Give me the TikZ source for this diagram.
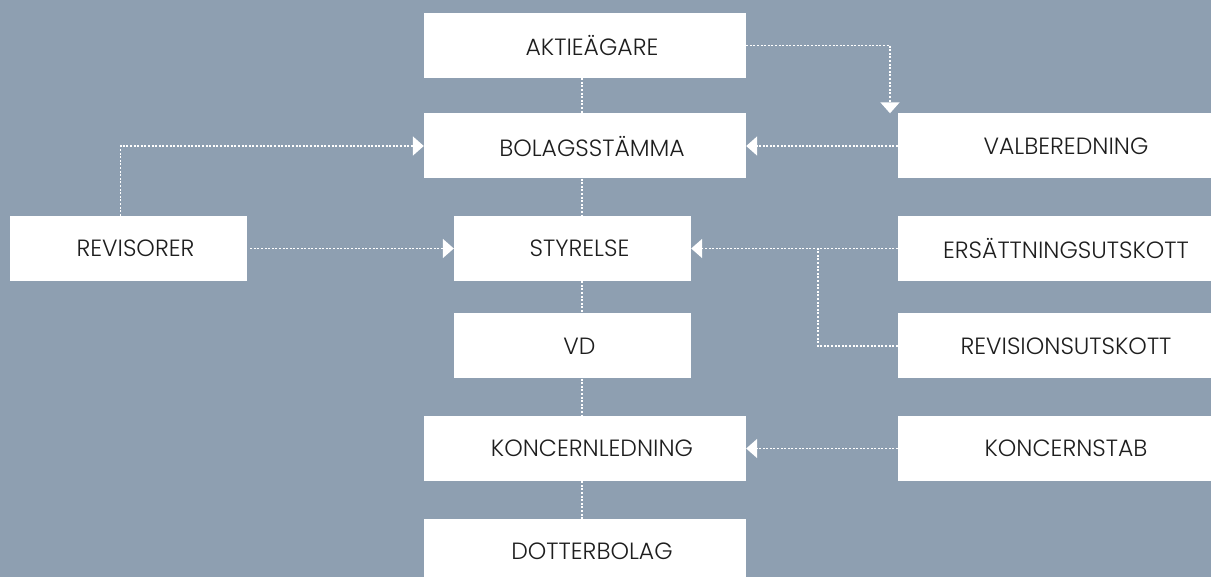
\documentclass[tikz,border=0pt]{standalone}
\usepackage{fontspec}
\setmainfont{Poppins}[UprightFont=* Light]
\usepackage{xcolor}
\usetikzlibrary{arrows.meta}
\definecolor{bgblue}{RGB}{142,159,177}
\definecolor{boxtext}{RGB}{30,30,30}
\tikzset{
    org-box/.style = {fill=white, rectangle, minimum height=65pt, inner sep=0pt, text=boxtext, font=\fontsize{23.5}{23.5}\selectfont},
    wide-box/.style = {org-box, minimum width=322pt},
    narrow-box/.style = {org-box, minimum width=237pt},
    link/.style = {draw=white, line width=1.8pt, dash pattern=on 2pt off 1.6pt},
    link-arrow/.style = {link, -{Triangle[width=19pt, length=11pt]}},
}
\newcommand{\boxlabel}[1]{\hspace*{14pt}#1}

\begin{document}
\begin{tikzpicture}[x=1pt, y=-1pt]
\fill[bgblue] (0,0) rectangle (1211,577);
\useasboundingbox (0,0) rectangle (1211,577);
\clip (0,0) rectangle (1211,577);

% centre column
\node[wide-box] (aktie) at (585,45.5) {\boxlabel{AKTIEÄGARE}};
\node[wide-box] (stamma) at (585,146) {\boxlabel{BOLAGSSTÄMMA}};
\node[narrow-box] (styrelse) at (572.5,248.5) {\boxlabel{STYRELSE}};
\node[narrow-box] (vd) at (572.5,346) {\boxlabel{VD}};
\node[wide-box] (koncled) at (585,448.5) {\boxlabel{KONCERNLEDNING}};
\node[wide-box] (dotter) at (585,551.5) {\boxlabel{DOTTERBOLAG}};

% sides
\node[narrow-box] (revisorer) at (128.5,248.5) {\boxlabel{REVISORER}};
\node[wide-box] (valb) at (1059,146) {\boxlabel{VALBEREDNING}};
\node[wide-box] (ersatt) at (1059,248.5) {\boxlabel{ERSÄTTNINGSUTSKOTT}};
\node[wide-box] (revutsk) at (1059,346) {\boxlabel{REVISIONSUTSKOTT}};
\node[wide-box] (koncstab) at (1059,448.5) {\boxlabel{KONCERNSTAB}};

\coordinate (spine) at (582,0);

% vertical chain
\draw[link] (aktie.south -| spine) -- (stamma.north -| spine);
\draw[link] (stamma.south -| spine) -- (styrelse.north -| spine);
\draw[link] (styrelse.south -| spine) -- (vd.north -| spine);
\draw[link] (vd.south -| spine) -- (koncled.north -| spine);
\draw[link] (koncled.south -| spine) -- (dotter.north -| spine);

% arrows
\draw[link-arrow] (aktie.east) -| ([xshift=-169pt]valb.north);
\draw[link-arrow] (valb.west) -- (stamma.east);
\draw[link-arrow] ([xshift=-8pt]revisorer.north) |- (stamma.west);
\draw[link-arrow] ([xshift=3pt]revisorer.east) -- (styrelse.west);
\draw[link-arrow] (ersatt.west) -- (styrelse.east);
\draw[link] (revutsk.west) -| ([xshift=-80pt]ersatt.west);
\draw[link-arrow] (koncstab.west) -- (koncled.east);
\end{tikzpicture}
\end{document}
